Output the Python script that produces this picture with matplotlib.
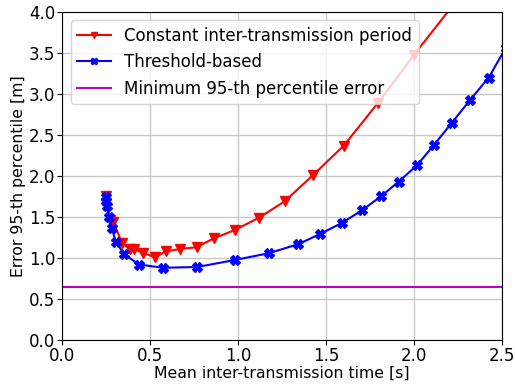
import numpy as np
import matplotlib
matplotlib.use('Agg')
import matplotlib.pyplot as plt

# Constant inter-transmission period
const_x = [0.251, 0.27, 0.289, 0.34, 0.384, 0.406, 0.46, 0.526, 0.59, 0.67, 0.763,
           0.862, 0.98, 1.117, 1.264, 1.425, 1.60, 1.794, 2.0, 2.22]
const_y = [1.75, 1.46, 1.44, 1.18, 1.11, 1.11, 1.06, 1.01, 1.08, 1.11, 1.13,
           1.24, 1.34, 1.49, 1.69, 2.01, 2.37, 2.89, 3.48, 4.08]

# Threshold-based
thr_x = [0.251, 0.251, 0.255, 0.264, 0.28, 0.304, 0.351, 0.436, 0.573, 0.768, 0.98,
         1.173, 1.34, 1.463, 1.592, 1.706, 1.814, 1.912, 2.018, 2.113, 2.215,
         2.319, 2.424, 2.52]
thr_y = [1.74, 1.69, 1.63, 1.50, 1.37, 1.20, 1.045, 0.92, 0.88, 0.89, 0.975,
         1.057, 1.167, 1.29, 1.43, 1.585, 1.756, 1.93, 2.134, 2.38, 2.65,
         2.93, 3.20, 3.56]

min_err = 0.645

fig = plt.figure(figsize=(5.15, 3.85), dpi=100)
ax = fig.add_axes([0.121, 0.117, 0.854, 0.852])

ax.plot(const_x, const_y, '-v', color='red', lw=1.5, ms=7,
        label='Constant inter-transmission period')
ax.plot(thr_x, thr_y, '-X', color='blue', lw=1.5, ms=7,
        label='Threshold-based')
ax.axhline(min_err, color='m', lw=1.5, label='Minimum 95-th percentile error')

ax.set_xlim(0, 2.5)
ax.set_ylim(0, 4.0)
ax.set_xticks(np.arange(0, 2.51, 0.5))
ax.set_yticks(np.arange(0, 4.01, 0.5))
ax.grid(True, color='#c8c8c8', lw=1)
ax.set_axisbelow(True)
ax.tick_params(labelsize=12, pad=1.5)
ax.set_xlabel('Mean inter-transmission time [s]', fontsize=11.3, labelpad=1)
ax.set_ylabel('Error 95-th percentile [m]', fontsize=11.3, labelpad=2)
ax.legend(loc='upper left', fontsize=12, markerscale=0.7)

fig.savefig('out.png', dpi=100)
